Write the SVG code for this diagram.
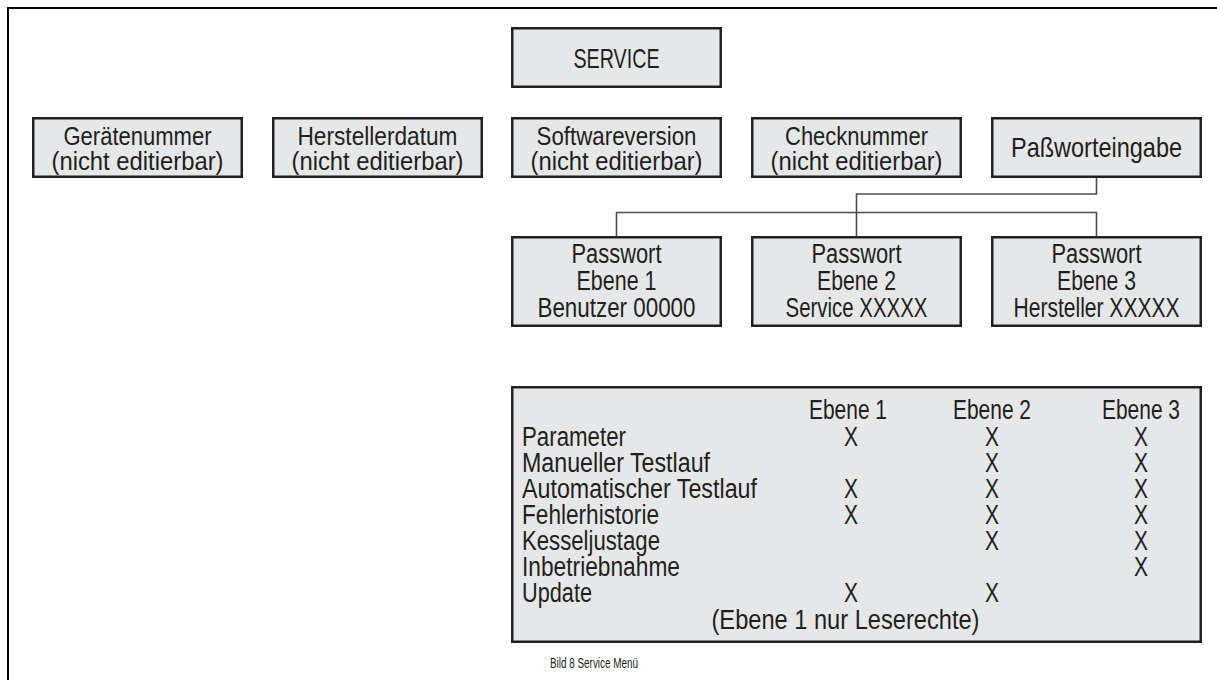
<svg xmlns="http://www.w3.org/2000/svg" width="1217" height="680" viewBox="0 0 1217 680">
<style>
  .box { fill: #e6e7e8; stroke: #231f20; stroke-width: 2.5; }
  .t { font-family: "Liberation Sans", Arial, sans-serif; fill: #231f20; }
  .m { text-anchor: middle; }
  .f28 { font-size: 28px; }
  .f27 { font-size: 27px; }
  .f25 { font-size: 25.5px; }
  .conn { fill: none; stroke: #4d4d4f; stroke-width: 1.6; }
  .frame { fill: none; stroke: #000; stroke-width: 2; }
</style>
<rect x="0" y="0" width="1217" height="680" fill="#fff"/>
<path class="frame" d="M8,680 V8 H1217"/>

<g id="connectors">
  <polyline class="conn" points="1096.5,178 1096.5,194 856.5,194 856.5,236"/>
  <polyline class="conn" points="616.5,236 616.5,212.5 1096.5,212.5 1096.5,236"/>
</g>

<g id="service">
  <rect class="box" x="512.25" y="28.25" width="208.5" height="58.5"/>
  <text class="t m f28" x="616.5" y="67.5" textLength="86" lengthAdjust="spacingAndGlyphs">SERVICE</text>
</g>

<g id="geraetenummer">
  <rect class="box" x="33.25" y="118.25" width="208.5" height="58.5"/>
  <text class="t m f25" x="137.5" y="145" textLength="148" lengthAdjust="spacingAndGlyphs">Gerätenummer</text>
  <text class="t m f25" x="137.5" y="170" textLength="172" lengthAdjust="spacingAndGlyphs">(nicht editierbar)</text>
</g>

<g id="herstellerdatum">
  <rect class="box" x="273.25" y="118.25" width="208.5" height="58.5"/>
  <text class="t m f25" x="377.5" y="145" textLength="160" lengthAdjust="spacingAndGlyphs">Herstellerdatum</text>
  <text class="t m f25" x="377.5" y="170" textLength="172" lengthAdjust="spacingAndGlyphs">(nicht editierbar)</text>
</g>

<g id="softwareversion">
  <rect class="box" x="512.25" y="118.25" width="208.5" height="58.5"/>
  <text class="t m f25" x="616.5" y="145" textLength="160" lengthAdjust="spacingAndGlyphs">Softwareversion</text>
  <text class="t m f25" x="616.5" y="170" textLength="172" lengthAdjust="spacingAndGlyphs">(nicht editierbar)</text>
</g>

<g id="checknummer">
  <rect class="box" x="752.25" y="118.25" width="208.5" height="58.5"/>
  <text class="t m f25" x="856.5" y="145" textLength="143" lengthAdjust="spacingAndGlyphs">Checknummer</text>
  <text class="t m f25" x="856.5" y="170" textLength="172" lengthAdjust="spacingAndGlyphs">(nicht editierbar)</text>
</g>

<g id="passworteingabe">
  <rect class="box" x="992.25" y="118.25" width="208.5" height="58.5"/>
  <text class="t m f28" x="1096.5" y="157" textLength="171" lengthAdjust="spacingAndGlyphs">Paßworteingabe</text>
</g>

<g id="passwort1">
  <rect class="box" x="512.25" y="237.25" width="208.5" height="88.5"/>
  <text class="t m f27" x="616.5" y="263" textLength="90" lengthAdjust="spacingAndGlyphs">Passwort</text>
  <text class="t m f27" x="616.5" y="290" textLength="80" lengthAdjust="spacingAndGlyphs">Ebene 1</text>
  <text class="t m f27" x="616.5" y="317" textLength="158" lengthAdjust="spacingAndGlyphs">Benutzer 00000</text>
</g>

<g id="passwort2">
  <rect class="box" x="752.25" y="237.25" width="208.5" height="88.5"/>
  <text class="t m f27" x="856.5" y="263" textLength="90" lengthAdjust="spacingAndGlyphs">Passwort</text>
  <text class="t m f27" x="856.5" y="290" textLength="79" lengthAdjust="spacingAndGlyphs">Ebene 2</text>
  <text class="t m f27" x="856.5" y="317" textLength="142" lengthAdjust="spacingAndGlyphs">Service XXXXX</text>
</g>

<g id="passwort3">
  <rect class="box" x="992.25" y="237.25" width="208.5" height="88.5"/>
  <text class="t m f27" x="1096.5" y="263" textLength="90" lengthAdjust="spacingAndGlyphs">Passwort</text>
  <text class="t m f27" x="1096.5" y="290" textLength="79" lengthAdjust="spacingAndGlyphs">Ebene 3</text>
  <text class="t m f27" x="1096.5" y="317" textLength="166" lengthAdjust="spacingAndGlyphs">Hersteller XXXXX</text>
</g>

<g id="rechte-tabelle">
  <rect class="box" x="512.25" y="387.25" width="688.5" height="254.5"/>
  <text class="t m f27" x="848" y="419" textLength="78" lengthAdjust="spacingAndGlyphs">Ebene 1</text>
  <text class="t m f27" x="992" y="419" textLength="78" lengthAdjust="spacingAndGlyphs">Ebene 2</text>
  <text class="t m f27" x="1141" y="419" textLength="78" lengthAdjust="spacingAndGlyphs">Ebene 3</text>

  <text class="t f27" x="522" y="446" textLength="104" lengthAdjust="spacingAndGlyphs">Parameter</text>
  <text class="t f27" x="522" y="472" textLength="188" lengthAdjust="spacingAndGlyphs">Manueller Testlauf</text>
  <text class="t f27" x="522" y="498" textLength="235" lengthAdjust="spacingAndGlyphs">Automatischer Testlauf</text>
  <text class="t f27" x="522" y="524" textLength="137" lengthAdjust="spacingAndGlyphs">Fehlerhistorie</text>
  <text class="t f27" x="522" y="550" textLength="138" lengthAdjust="spacingAndGlyphs">Kesseljustage</text>
  <text class="t f27" x="522" y="576" textLength="158" lengthAdjust="spacingAndGlyphs">Inbetriebnahme</text>
  <text class="t f27" x="522" y="602" textLength="70" lengthAdjust="spacingAndGlyphs">Update</text>

  <text class="t m f27" x="851" y="446" textLength="14" lengthAdjust="spacingAndGlyphs">X</text>
  <text class="t m f27" x="851" y="498" textLength="14" lengthAdjust="spacingAndGlyphs">X</text>
  <text class="t m f27" x="851" y="524" textLength="14" lengthAdjust="spacingAndGlyphs">X</text>
  <text class="t m f27" x="851" y="602" textLength="14" lengthAdjust="spacingAndGlyphs">X</text>

  <text class="t m f27" x="992" y="446" textLength="14" lengthAdjust="spacingAndGlyphs">X</text>
  <text class="t m f27" x="992" y="472" textLength="14" lengthAdjust="spacingAndGlyphs">X</text>
  <text class="t m f27" x="992" y="498" textLength="14" lengthAdjust="spacingAndGlyphs">X</text>
  <text class="t m f27" x="992" y="524" textLength="14" lengthAdjust="spacingAndGlyphs">X</text>
  <text class="t m f27" x="992" y="550" textLength="14" lengthAdjust="spacingAndGlyphs">X</text>
  <text class="t m f27" x="992" y="602" textLength="14" lengthAdjust="spacingAndGlyphs">X</text>

  <text class="t m f27" x="1141" y="446" textLength="14" lengthAdjust="spacingAndGlyphs">X</text>
  <text class="t m f27" x="1141" y="472" textLength="14" lengthAdjust="spacingAndGlyphs">X</text>
  <text class="t m f27" x="1141" y="498" textLength="14" lengthAdjust="spacingAndGlyphs">X</text>
  <text class="t m f27" x="1141" y="524" textLength="14" lengthAdjust="spacingAndGlyphs">X</text>
  <text class="t m f27" x="1141" y="550" textLength="14" lengthAdjust="spacingAndGlyphs">X</text>
  <text class="t m f27" x="1141" y="576" textLength="14" lengthAdjust="spacingAndGlyphs">X</text>

  <text class="t m f27" x="845.5" y="629" textLength="268" lengthAdjust="spacingAndGlyphs">(Ebene 1 nur Leserechte)</text>
</g>

<g id="caption">
  <text class="t" x="550" y="667.5" font-size="15" textLength="88" lengthAdjust="spacingAndGlyphs">Bild 8 Service Menü</text>
</g>
</svg>
